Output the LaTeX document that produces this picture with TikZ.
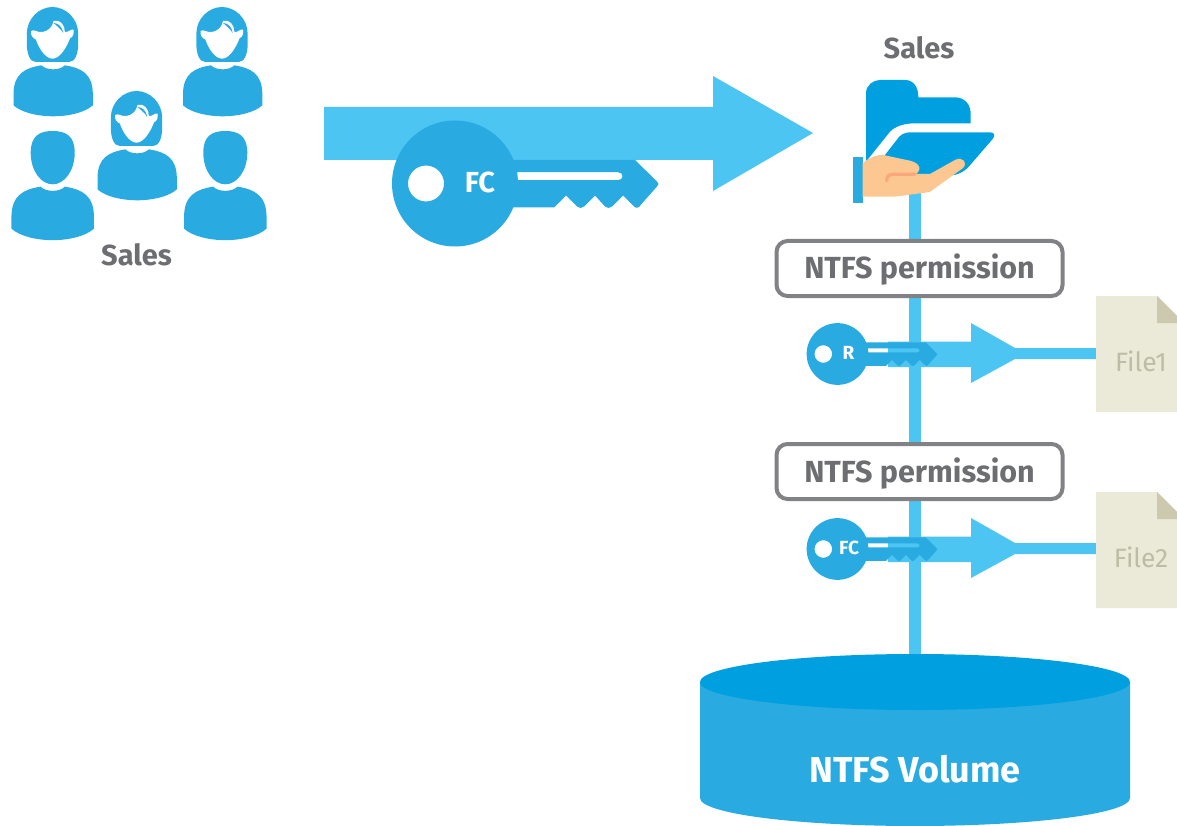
\documentclass[tikz,border=0pt]{standalone}
\usepackage{fontspec}
\setmainfont{Fira Sans}
\definecolor{iconblue}{HTML}{29ABE2}
\definecolor{deepblue}{HTML}{00A0E0}
\definecolor{arrowblue}{HTML}{4DC5F2}
\definecolor{labelgray}{HTML}{6D6E71}
\definecolor{boxgray}{HTML}{808285}
\definecolor{pagecream}{HTML}{EBE9D8}
\definecolor{foldtan}{HTML}{CDC9AE}
\definecolor{filetext}{HTML}{BFBCA5}
\definecolor{skin}{HTML}{FDC792}
\definecolor{crease}{HTML}{F8A87C}
\newcommand{\bodyshape}[2]{% centre x, top y in zoom units
 \begin{scope}[shift={(#1,#2)}]
 \fill[iconblue] (-35,0) .. controls (-85,8) and (-118,25) .. (-119,85) -- (-119,120)
  .. controls (-95,142) and (-45,153) .. (0,153) .. controls (45,153) and (95,142) .. (119,120)
  -- (119,85) .. controls (118,25) and (85,8) .. (35,0) .. controls (20,16) and (-20,16) .. (-35,0) -- cycle;
 \end{scope}}
\newcommand{\womanicon}[2]{%
 \begin{scope}[shift={(#1,#2)},scale=0.3333]
 \fill[iconblue] (-50,165) .. controls (-68,165) and (-77,140) .. (-77,110)
  -- (-77,80) .. controls (-77,35) and (-40,0) .. (0,0)
  .. controls (40,0) and (77,35) .. (77,80)
  -- (77,110) .. controls (77,140) and (68,165) .. (50,165) -- cycle;
 \fill[white] (-64,72) .. controls (-55,65) and (-45,78) .. (-30,75)
  .. controls (-12,72) and (0,60) .. (3,42) .. controls (22,35) and (38,55) .. (37,75)
  .. controls (45,78) and (55,65) .. (63,68) .. controls (66,80) and (60,92) .. (53,93)
  .. controls (42,122) and (22,155) .. (0,155) .. controls (-22,155) and (-42,122) .. (-50,97)
  .. controls (-58,95) and (-67,85) .. (-64,72) -- cycle;
 \fill[iconblue] (3,48) .. controls (18,48) and (30,60) .. (32,78) .. controls (25,66) and (15,58) .. (3,48) -- cycle;
 \bodyshape{2}{175}
 \end{scope}}
\newcommand{\manicon}[2]{%
 \begin{scope}[shift={(#1,#2)},scale=0.3333]
 \fill[iconblue] (0,0) .. controls (40,0) and (66,15) .. (66,65) .. controls (66,120) and (35,160) .. (0,160)
  .. controls (-35,160) and (-66,120) .. (-66,65) .. controls (-66,15) and (-40,0) .. (0,0) -- cycle;
 \begin{scope}[xscale=1.04,yscale=1.05,yshift=-159pt]\bodyshape{0}{0}\end{scope}
 \end{scope}}
\newcommand{\keyicon}[3]{% x, y, scale
 \begin{scope}[shift={(#1,#2)},scale=#3]
 \fill[iconblue,even odd rule] (0,0) circle[radius=63]
  (-29,0) circle[radius=18];
 \fill[iconblue,even odd rule] (50,-23.5) -- (180,-23.5) -- (202,-2) .. controls (204,0) and (204,1) .. (202,3)
  -- (186,21) .. controls (184,25) and (181,25) .. (179,23) -- (168,12)
  -- (157,23) .. controls (155,25) and (152,25) .. (150,23) -- (140,12)
  -- (129,23) .. controls (127,25) and (124,25) .. (122,23) -- (111,12)
  -- (99,24) -- (50,24) -- cycle
  (62,-11.3) -- (163,-11.3) .. controls (169,-11.3) and (169,-3.3) .. (163,-3.3) -- (62,-3.3) -- cycle;
 \end{scope}}
\tikzset{
 lbl/.style={font=\bfseries\fontsize{29}{32}\selectfont,text=labelgray,inner sep=0pt},
 permbox/.style={draw=boxgray,line width=4pt,fill=white,rounded corners=11pt,minimum width=286pt,minimum height=55pt,
   font=\bfseries\fontsize{30.5}{33}\selectfont,text=labelgray,inner sep=0pt,text height=25pt,text depth=4pt},
 keytext/.style={text=white,font=\bfseries,inner sep=0pt},
 flow/.style={fill=arrowblue},
 filetxt/.style={text=filetext,font=\fontsize{26.5}{28}\selectfont,inner sep=0pt}
}
\newcommand{\filearrow}[1]{% y shift
 \begin{scope}[yshift=-#1pt]
 \fill[flow] (888,341.5) -- (971,341.5) -- (971,323) -- (1015,348) -- (1096,348) -- (1096,359) -- (1015,359) -- (971,383) -- (971,367) -- (888,367) -- cycle;
 \end{scope}}
\begin{document}
\begin{tikzpicture}[x=1pt,y=-1pt]
\useasboundingbox (0,0) rectangle (1177,826);
\fill[white] (0,0) rectangle (1177,826);
% people
\womanicon{52.5}{7}
\womanicon{222}{7}
\womanicon{136.5}{91}
\manicon{52.7}{131}
\manicon{225.3}{131}
\node[lbl] (salesL) at (136.5,255) {Sales};
% big arrow
\fill[flow] (324,107) -- (713,107) -- (713,76) -- (813,133) -- (713,191) -- (713,160) -- (324,160) -- cycle;
\keyicon{455}{183.5}{1}
\node[keytext,font=\bfseries\fontsize{29}{32}\selectfont] (fc) at (480,182) {FC};
% vertical line
\coordinate (folderfoot) at (915,190);
\coordinate (volumetop) at (915,665);
\draw[arrowblue,line width=12pt] (folderfoot) -- (volumetop);
% folder
\node[lbl] (salesR) at (919,48) {Sales};
\begin{scope}[shift={(840,60)},scale=0.3333]
 \fill[deepblue] (78,305) -- (78,100) .. controls (78,75) and (100,60) .. (120,60) -- (195,60)
  .. controls (220,60) and (235,80) .. (235,112) -- (345,112) .. controls (375,112) and (392,135) .. (392,160)
  -- (392,190) -- (225,190) .. controls (190,190) and (165,200) .. (150,215) -- cycle;
 \fill[deepblue] (135,285) -- (170,240) .. controls (180,225) and (190,217) .. (215,217) -- (450,217)
  .. controls (465,217) and (466,228) .. (458,237) -- (395,310) .. controls (375,335) and (355,347) .. (320,347) -- (160,347) -- cycle;
 \fill[iconblue] (38,290) rectangle (68,430);
 \fill[skin] (68,310) .. controls (85,295) and (110,283) .. (130,285) -- (200,300)
  .. controls (235,305) and (250,325) .. (228,342) -- (270,342) -- (345,300)
  .. controls (370,288) and (385,310) .. (368,325) -- (280,388) .. controls (272,396) and (265,398) .. (255,398)
  -- (165,410) -- (68,410) -- cycle;
 \draw[crease,line width=3.3pt,line cap=round] (140,362) .. controls (140,348) and (148,343) .. (160,343) -- (225,343);
\end{scope}
% permission boxes
\node[permbox] (perm1) at (919.5,268.5) {NTFS permission};
\node[permbox] (perm2) at (919.5,471.5) {NTFS permission};
% file rows
\filearrow{0}
\filearrow{195}
\keyicon{837.5}{354}{0.49}
\keyicon{837.5}{549}{0.49}
\node[keytext,font=\bfseries\fontsize{19}{21}\selectfont] (r) at (848.5,353) {R};
\node[keytext,font=\bfseries\fontsize{19}{21}\selectfont] (fc2) at (849,548) {FC};
% files
\foreach \yy/\nm in {296/File1,492/File2}{
 \fill[pagecream] (1096,\yy) -- (1157,\yy) -- (1177,\yy+20) -- (1177,\yy+116) -- (1096,\yy+116) -- cycle;
 \fill[foldtan] (1157,\yy) -- (1177,\yy+20) -- (1177,\yy+27) -- (1157,\yy+27) -- cycle;
 \node[filetxt] at (1141,\yy+65) {\nm};
}
% volume
\fill[iconblue] (700,682) -- (700,798) .. controls (700,814) and (800,826) .. (915,826)
 .. controls (1030,826) and (1130,814) .. (1130,798) -- (1130,682) -- cycle;
\fill[deepblue] (915,682) ellipse[x radius=215,y radius=28];
\node[keytext,font=\bfseries\fontsize{36}{40}\selectfont] (vol) at (915,769) {NTFS Volume};
\end{tikzpicture}
\end{document}
